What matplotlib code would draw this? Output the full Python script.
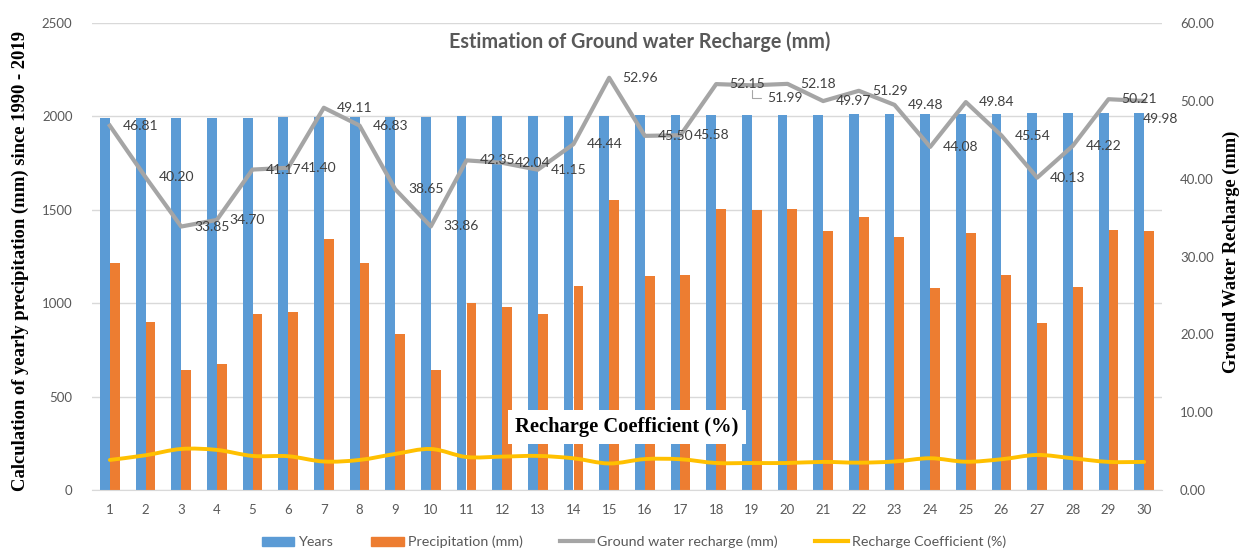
import matplotlib
matplotlib.use('Agg')
import matplotlib.pyplot as plt
from matplotlib.path import Path
from matplotlib.patches import PathPatch, Patch
from matplotlib.lines import Line2D
from matplotlib.ticker import FormatStrFormatter

plt.rcParams['font.family'] = ['Lato', 'DejaVu Sans']

cats = list(range(1, 31))
years = [1990, 1991, 1992, 1993, 1994, 1995, 1996, 1997, 1998, 1999,
         2000, 2001, 2002, 2003, 2004, 2005, 2006, 2007, 2008, 2009,
         2010, 2011, 2012, 2013, 2014, 2015, 2016, 2017, 2018, 2019]
precip = [1213, 901, 642, 674, 940, 953, 1342, 1213, 835, 642,
          999, 980, 940, 1092, 1552, 1145, 1153, 1504, 1499, 1504,
          1386, 1460, 1353, 1080, 1374, 1153, 892, 1087, 1392, 1386]
recharge = [46.81, 40.20, 33.85, 34.70, 41.17, 41.40, 49.11, 46.83, 38.65, 33.86,
            42.35, 42.04, 41.15, 44.44, 52.96, 45.50, 45.58, 52.15, 51.99, 52.18,
            49.97, 51.29, 49.48, 44.08, 49.84, 45.54, 40.13, 44.22, 50.21, 49.98]
coef = [3.86, 4.46, 5.27, 5.15, 4.38, 4.34, 3.66, 3.86, 4.63, 5.27,
        4.24, 4.29, 4.38, 4.07, 3.41, 3.97, 3.95, 3.47, 3.47, 3.47,
        3.61, 3.51, 3.66, 4.08, 3.63, 3.95, 4.50, 4.07, 3.61, 3.61]

BLUE = '#5B9BD5'
ORANGE = '#ED7D31'
GREY = '#A5A5A5'
YELLOW = '#FFC000'
TXT = '#595959'

fig = plt.figure(figsize=(12.42, 5.49), dpi=100)
ax = fig.add_axes([92 / 1242, 59 / 549, 1070 / 1242, 467 / 549])
ax2 = ax.twinx()

w = 0.28
ax.bar([c - w / 2 for c in cats], years, width=w, color=BLUE, zorder=2)
ax.bar([c + w / 2 for c in cats], precip, width=w, color=ORANGE, zorder=2)
ax.set_xlim(0.5, 30.5)
ax.set_ylim(0, 2500)
ax.set_yticks(range(0, 2501, 500))
ax.set_xticks(cats)
ax.grid(axis='y', color='#D9D9D9', lw=1, zorder=0)
ax.set_axisbelow(True)
for s in ['top', 'right', 'left']:
    ax.spines[s].set_visible(False)
ax.spines['bottom'].set_color('#D9D9D9')
ax.tick_params(axis='both', length=0, colors=TXT, labelsize=9.5)
ax.tick_params(axis='y', pad=14)
ax.tick_params(axis='x', pad=10)

ax2.set_ylim(0, 60)
ax2.set_yticks(range(0, 61, 10))
ax2.yaxis.set_major_formatter(FormatStrFormatter('%.2f'))
ax2.tick_params(axis='y', length=0, colors=TXT, labelsize=9.5, pad=13)
for s in ax2.spines.values():
    s.set_visible(False)

ax2.plot(cats, recharge, color=GREY, lw=3, zorder=3, solid_joinstyle='round')

# smoothed coefficient line (Bezier through the data points)
pts = list(zip(cats, coef))
verts = [pts[0]]
codes = [Path.MOVETO]
n = len(pts)
for i in range(n - 1):
    p0 = pts[max(i - 1, 0)]
    p1 = pts[i]
    p2 = pts[i + 1]
    p3 = pts[min(i + 2, n - 1)]
    c1 = (p1[0] + (p2[0] - p0[0]) / 6, p1[1] + (p2[1] - p0[1]) / 6)
    c2 = (p2[0] - (p3[0] - p1[0]) / 6, p2[1] - (p3[1] - p1[1]) / 6)
    verts += [c1, c2, p2]
    codes += [Path.CURVE4] * 3
ax2.add_patch(PathPatch(Path(verts, codes), fill=False, edgecolor=YELLOW,
                        lw=2.8, zorder=4, capstyle='round'))

for i, (c, v) in enumerate(zip(cats, recharge)):
    if c == 19:
        ax2.annotate(f'{v:.2f}', (c, v), xytext=(15, -13), textcoords='offset pixels',
                     ha='left', va='center', fontsize=10, color='#404040',
                     arrowprops=dict(arrowstyle='-', color='#A6A6A6', lw=0.8,
                                     connectionstyle='angle,angleA=0,angleB=90',
                                     shrinkA=2, shrinkB=3))
    elif c == 30:
        ax2.annotate(f'{v:.2f}', (c, v), xytext=(16, -18), textcoords='offset pixels',
                     ha='center', va='center', fontsize=10, color='#404040')
    else:
        ax2.annotate(f'{v:.2f}', (c, v), xytext=(13, 0), textcoords='offset pixels',
                     ha='left', va='center', fontsize=10, color='#404040')

ax2.text(0.5, 0.135, 'Recharge Coefficient (%)', transform=ax2.transAxes,
         ha='center', va='center', family='Liberation Serif', fontweight='bold',
         fontsize=14.8, color='black', zorder=6,
         bbox=dict(facecolor='white', edgecolor='none', pad=5))

fig.text(640 / 1242, 1 - 42 / 549, 'Estimation of Ground water Recharge (mm)',
         ha='center', va='center', fontsize=14.2, fontweight='bold', color=TXT)
fig.text(20 / 1242, 1 - 261 / 549, 'Calculation of yearly precipitation (mm) since 1990 - 2019',
         rotation=90, ha='center', va='center', family='Liberation Serif',
         fontweight='bold', fontsize=13.4)
fig.text(1231 / 1242, 1 - 252 / 549, 'Ground Water Recharge (mm)',
         rotation=90, ha='center', va='center', family='Liberation Serif',
         fontweight='bold', fontsize=13.2)

handles = [Patch(color=BLUE, label='Years'),
           Patch(color=ORANGE, label='Precipitation (mm)'),
           Line2D([], [], color=GREY, lw=3, label='Ground water recharge (mm)'),
           Line2D([], [], color=YELLOW, lw=3, label='Recharge Coefficient (%)')]
fig.legend(handles=handles, loc='center', bbox_to_anchor=(634 / 1242, 1 - 542 / 549),
           ncol=4, frameon=False, fontsize=10.3, labelcolor=TXT,
           handlelength=2.3, handleheight=0.6, columnspacing=2.6, handletextpad=0.3)

fig.savefig('out.png', dpi=100)
